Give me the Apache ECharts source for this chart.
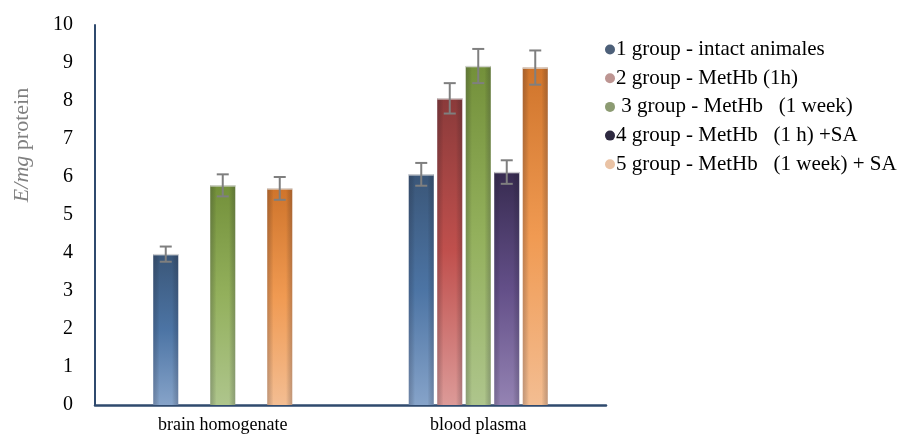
<!DOCTYPE html>
<html>
<head>
<meta charset="utf-8">
<script src="https://cdn.jsdelivr.net/npm/echarts@6/dist/echarts.min.js"></script>
<style>html,body{margin:0;padding:0;background:#fff}#c{width:906px;height:435px}</style>
</head>
<body>
<div id="c"></div>
<script>
var categories = ['brain homogenate', 'blood plasma'];
var groupNames = ['1 group - intact animales', '2 group - MetHb (1h)', ' 3 group - MetHb   (1 week)', '4 group - MetHb   (1 h) +SA', '5 group - MetHb   (1 week) + SA'];
var group1 = [3.97, 6.07];
var group2 = [null, 8.07];
var group3 = [5.78, 8.92];
var group4 = [null, 6.13];
var group5 = [5.7, 8.88];
var err1 = [0.2, 0.3];
var err2 = [null, 0.4];
var err3 = [0.29, 0.45];
var err4 = [null, 0.31];
var err5 = [0.3, 0.45];
var yTicks = [0, 1, 2, 3, 4, 5, 6, 7, 8, 9, 10];

var values = [group1, group2, group3, group4, group5];
var errors = [err1, err2, err3, err4, err5];
var gradStops = [
  ['#3a5678', '#4c74a4', '#86a3c9'],
  ['#8a3a3a', '#c0504d', '#dc9a98'],
  ['#73903a', '#93b05c', '#aec58c'],
  ['#372b50', '#634f88', '#9483b3'],
  ['#cf742b', '#f09a52', '#f3bd92']
];
var legendColors = ['#4d6079', '#bd9592', '#8c9b72', '#2e2940', '#eac3a5'];

var BW = 25, GAP = 3.5;

var series = [];
values.forEach(function (vals, i) {
  series.push({
    name: groupNames[i],
    type: 'bar',
    data: vals,
    barWidth: BW,
    barGap: (GAP / BW * 100) + '%',
    itemStyle: {
      color: new echarts.graphic.LinearGradient(0, 0, 0, 1, [
        {offset: 0, color: gradStops[i][0]},
        {offset: 0.5, color: gradStops[i][1]},
        {offset: 1, color: gradStops[i][2]}
      ])
    },
    z: 2
  });
});

var errData = [];
values.forEach(function (vals, i) {
  vals.forEach(function (v, c) {
    if (v != null) errData.push([c, v, errors[i][c], i]);
  });
});

series.push({
  name: 'err',
  type: 'custom',
  data: errData,
  z: 5,
  silent: true,
  renderItem: function (params, api) {
    var c = api.value(0), v = api.value(1), e = api.value(2), i = api.value(3);
    var base = api.coord([c, 0]);
    var top = api.coord([c, v]);
    var cx = base[0] + (i - 2) * (BW + GAP);
    var hi = api.coord([c, v + e])[1];
    var lo = api.coord([c, v - e])[1];
    var cap = 6;
    var st = {stroke: '#7f7f7f', lineWidth: 2};
    return {
      type: 'group',
      children: [
        {type: 'rect', shape: {x: cx - BW / 2, y: top[1], width: BW, height: base[1] - top[1]},
          style: {fill: new echarts.graphic.LinearGradient(0, 0, 1, 0, [
            {offset: 0, color: 'rgba(40,40,60,0.25)'},
            {offset: 0.25, color: 'rgba(0,0,0,0)'},
            {offset: 0.75, color: 'rgba(0,0,0,0)'},
            {offset: 1, color: 'rgba(40,40,60,0.25)'}
          ])}},
        {type: 'line', shape: {x1: cx - BW / 2, y1: top[1] + 0.5, x2: cx + BW / 2, y2: top[1] + 0.5}, style: {stroke: 'rgba(220,220,220,0.9)', lineWidth: 1.5}},
        {type: 'line', shape: {x1: cx, y1: hi, x2: cx, y2: lo}, style: st},
        {type: 'line', shape: {x1: cx - cap, y1: hi, x2: cx + cap, y2: hi}, style: st},
        {type: 'line', shape: {x1: cx - cap, y1: lo, x2: cx + cap, y2: lo}, style: st}
      ]
    };
  }
});

var chart = echarts.init(document.getElementById('c'), null, {renderer: 'canvas'});
chart.setOption({
  animation: false,
  backgroundColor: '#fff',
  textStyle: {fontFamily: 'Liberation Serif'},
  grid: {left: 95, right: 300, top: 25, bottom: 30, containLabel: false},
  legend: {
    orient: 'vertical',
    left: 600,
    top: 34,
    itemWidth: 10,
    itemHeight: 10,
    itemGap: 7.7,
    icon: 'circle',
    selectedMode: false,
    textStyle: {fontFamily: 'Liberation Serif', fontSize: 21, lineHeight: 20, color: '#000', padding: [0, 0, 0, -4]},
    data: groupNames.map(function (n, i) {
      return {name: n, itemStyle: {color: legendColors[i]}};
    })
  },
  xAxis: {
    type: 'category',
    data: categories,
    axisLine: {lineStyle: {color: '#2f4a6e', width: 2.5}},
    axisTick: {show: false},
    axisLabel: {fontFamily: 'Liberation Serif', fontSize: 18, color: '#000', margin: 11}
  },
  yAxis: {
    type: 'value',
    min: yTicks[0],
    max: yTicks[yTicks.length - 1],
    interval: 1,
    axisLine: {show: true, lineStyle: {color: '#2f4a6e', width: 2}},
    axisTick: {show: false},
    splitLine: {show: false},
    axisLabel: {fontFamily: 'Liberation Serif', fontSize: 20, color: '#000', margin: 22}
  },
  graphic: [{
    type: 'text',
    x: 22,
    y: 145,
    rotation: Math.PI / 2,
    style: {
      text: '{i|E/mg} protein',
      fill: '#808080',
      font: '22px "Liberation Serif"',
      align: 'center',
      verticalAlign: 'middle',
      rich: {i: {fontStyle: 'italic', fontFamily: 'Liberation Serif', fontSize: 22, fill: '#808080'}}
    }
  }],
  series: series
});
</script>
</body>
</html>
